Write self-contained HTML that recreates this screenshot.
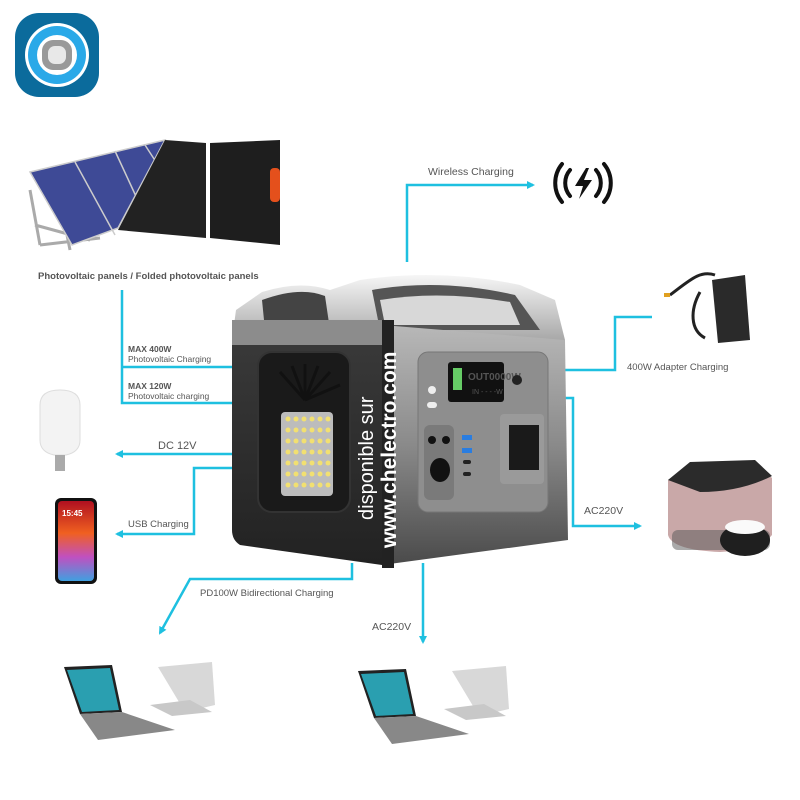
<!DOCTYPE html>
<html><head><meta charset="utf-8"><style>
html,body{margin:0;padding:0;background:#fff;}
svg{display:block;}
text{font-family:"Liberation Sans",sans-serif;fill:#555;}
</style></head><body>
<svg width="800" height="800" viewBox="0 0 800 800" xmlns="http://www.w3.org/2000/svg">
<defs>
<linearGradient id="top" x1="0" y1="0" x2="0" y2="1"><stop offset="0" stop-color="#f6f6f6"/><stop offset="1" stop-color="#a8a8a8"/></linearGradient>
<linearGradient id="front" x1="0" y1="0" x2="0" y2="1"><stop offset="0" stop-color="#b8b8b8"/><stop offset="0.5" stop-color="#8a8a8a"/><stop offset="1" stop-color="#4a4a4a"/></linearGradient>
<linearGradient id="side" x1="0" y1="0" x2="0" y2="1"><stop offset="0" stop-color="#3a3a3a"/><stop offset="1" stop-color="#222"/></linearGradient>
<linearGradient id="phone" x1="0" y1="0" x2="0" y2="1"><stop offset="0" stop-color="#b01020"/><stop offset="0.4" stop-color="#f06020"/><stop offset="0.7" stop-color="#c050c0"/><stop offset="1" stop-color="#40a0e0"/></linearGradient>
<marker id="ar" markerWidth="8" markerHeight="8" refX="6" refY="4" orient="auto" markerUnits="userSpaceOnUse"><path d="M0,0 L8,4 L0,8 z" fill="#1ec0e0"/></marker>
</defs>

<!-- logo -->
<rect x="15" y="13" width="84" height="84" rx="24" fill="#0b6b9c"/>
<circle cx="57" cy="55" r="32" fill="#fff"/>
<circle cx="57" cy="55" r="29" fill="#2aa9e8"/>
<circle cx="57" cy="55" r="20" fill="#fff"/>
<rect x="42" y="40" width="30" height="30" rx="11" fill="#999"/>
<rect x="48" y="46" width="18" height="18" rx="7" fill="#e8e8e8"/>

<!-- solar panels -->
<g stroke="#aaa" stroke-width="3" fill="none"><path d="M30,190 L40,245 M35,225 L90,240 M60,200 L70,250 M40,245 L100,238"/></g>
<polygon points="30,172 165,140 118,228 72,245" fill="#3e4a96" stroke="#ccc" stroke-width="1.5"/>
<line x1="75" y1="162" x2="115" y2="235" stroke="#ccc" stroke-width="1.5"/>
<line x1="115" y1="151" x2="140" y2="205" stroke="#ccc" stroke-width="1.5"/>
<line x1="145" y1="145" x2="158" y2="165" stroke="#ccc" stroke-width="1.5"/>
<polygon points="165,140 206,143 206,238 118,230" fill="#222"/>
<polygon points="210,143 280,140 280,245 210,238" fill="#1e1e1e"/>
<rect x="270" y="168" width="10" height="34" rx="4" fill="#e4501c"/>
<text x="38" y="279" font-size="9.5" font-weight="bold" fill="#444">Photovoltaic panels / Folded photovoltaic panels</text>

<!-- connectors -->
<g stroke="#1ec0e0" stroke-width="2.5" fill="none">
<path d="M122,290 L122,403 L232,403"/>
<path d="M122,367 L232,367"/>
<path d="M232,454 L117,454" marker-end="url(#ar)"/>
<path d="M232,468 L194,468 L194,534 L117,534" marker-end="url(#ar)"/>
<path d="M352,563 L352,579 L190,579 L160,633" marker-end="url(#ar)"/>
<path d="M423,563 L423,642" marker-end="url(#ar)"/>
<path d="M407,262 L407,185 L533,185" marker-end="url(#ar)"/>
<path d="M565,370 L615,370 L615,317 L652,317"/>
<path d="M565,398 L573,398 L573,526 L640,526" marker-end="url(#ar)"/>
</g>
<text x="128" y="352" font-size="8.5" font-weight="bold" fill="#555">MAX 400W</text>
<text x="128" y="362" font-size="8.5" fill="#555">Photovoltaic Charging</text>
<text x="128" y="389" font-size="8.5" font-weight="bold" fill="#555">MAX 120W</text>
<text x="128" y="399" font-size="8.5" fill="#555">Photovoltaic charging</text>
<text x="158" y="449" font-size="11" fill="#555">DC  12V</text>
<text x="128" y="527" font-size="9.5" fill="#555">USB Charging</text>
<text x="200" y="596" font-size="9.5" fill="#555">PD100W Bidirectional Charging</text>
<text x="372" y="630" font-size="10.5" fill="#555">AC220V</text>
<text x="428" y="175" font-size="10.5" fill="#555">Wireless Charging</text>
<text x="627" y="370" font-size="9.5" fill="#555">400W Adapter Charging</text>
<text x="584" y="514" font-size="10.5" fill="#555">AC220V</text>

<!-- wireless icon -->
<g stroke="#111" stroke-width="4" fill="none" stroke-linecap="round">
<path d="M562,164 A30,30 0 0 0 562,202"/><path d="M570,170 A20,20 0 0 0 570,196"/>
<path d="M604,164 A30,30 0 0 1 604,202"/><path d="M596,170 A20,20 0 0 1 596,196"/>
</g>
<polygon points="586,168 575,186 583,186 579,199 592,180 584,180 589,168" fill="#111"/>

<!-- adapter -->
<path d="M670,295 C690,280 700,270 715,275" stroke="#222" stroke-width="3" fill="none"/>
<path d="M700,292 C690,310 690,330 705,338" stroke="#222" stroke-width="3" fill="none"/>
<polygon points="712,280 745,275 750,340 718,343" fill="#2a2a2a"/>
<rect x="664" y="293" width="6" height="4" fill="#e0a020"/>

<!-- power station -->
<path d="M236,310 L262,292 Q300,280 330,290 L360,280 Q440,268 520,285 L555,300 L565,340 L232,340 Z" fill="url(#top)"/>
<path d="M262,300 Q300,286 325,296 L330,330 L265,330 Z" fill="#444"/>
<path d="M372,290 Q440,278 515,295 L540,330 L380,330 Z" fill="#555"/>
<path d="M380,300 Q440,290 510,302 L520,325 L385,325 Z" fill="#d8d8d8"/>
<path d="M232,330 L382,330 L382,565 L240,545 Q232,540 232,530 Z" fill="url(#side)"/>
<path d="M232,320 L382,320 L382,345 L232,345 Z" fill="#8c8c8c"/>
<path d="M382,325 L565,340 L568,540 L382,565 Z" fill="url(#front)"/>
<rect x="382" y="320" width="12" height="248" fill="#222"/>
<rect x="258" y="352" width="92" height="160" rx="14" fill="#1a1a1a" stroke="#333" stroke-width="2"/>
<g stroke="#111" stroke-width="3">
<path d="M305,400 L280,372 M305,400 L292,366 M305,400 L305,364 M305,400 L318,366 M305,400 L330,372 M305,400 L340,385"/>
</g>
<rect x="281" y="412" width="52" height="84" rx="4" fill="#bcbcbc"/>
<g fill="#f2e070">
<circle cx="288" cy="419" r="2.5"/><circle cx="296" cy="419" r="2.5"/><circle cx="304" cy="419" r="2.5"/><circle cx="312" cy="419" r="2.5"/><circle cx="320" cy="419" r="2.5"/><circle cx="328" cy="419" r="2.5"/>
<circle cx="288" cy="430" r="2.5"/><circle cx="296" cy="430" r="2.5"/><circle cx="304" cy="430" r="2.5"/><circle cx="312" cy="430" r="2.5"/><circle cx="320" cy="430" r="2.5"/><circle cx="328" cy="430" r="2.5"/>
<circle cx="288" cy="441" r="2.5"/><circle cx="296" cy="441" r="2.5"/><circle cx="304" cy="441" r="2.5"/><circle cx="312" cy="441" r="2.5"/><circle cx="320" cy="441" r="2.5"/><circle cx="328" cy="441" r="2.5"/>
<circle cx="288" cy="452" r="2.5"/><circle cx="296" cy="452" r="2.5"/><circle cx="304" cy="452" r="2.5"/><circle cx="312" cy="452" r="2.5"/><circle cx="320" cy="452" r="2.5"/><circle cx="328" cy="452" r="2.5"/>
<circle cx="288" cy="463" r="2.5"/><circle cx="296" cy="463" r="2.5"/><circle cx="304" cy="463" r="2.5"/><circle cx="312" cy="463" r="2.5"/><circle cx="320" cy="463" r="2.5"/><circle cx="328" cy="463" r="2.5"/>
<circle cx="288" cy="474" r="2.5"/><circle cx="296" cy="474" r="2.5"/><circle cx="304" cy="474" r="2.5"/><circle cx="312" cy="474" r="2.5"/><circle cx="320" cy="474" r="2.5"/><circle cx="328" cy="474" r="2.5"/>
<circle cx="288" cy="485" r="2.5"/><circle cx="296" cy="485" r="2.5"/><circle cx="304" cy="485" r="2.5"/><circle cx="312" cy="485" r="2.5"/><circle cx="320" cy="485" r="2.5"/><circle cx="328" cy="485" r="2.5"/>
</g>
<rect x="418" y="352" width="130" height="160" rx="10" fill="#8e8e8e" stroke="#777"/>
<rect x="448" y="362" width="56" height="40" rx="3" fill="#111"/>
<rect x="453" y="368" width="9" height="22" fill="#6c6"/>
<text x="468" y="380" font-size="10" fill="#fff" font-weight="bold">OUT0000W</text>
<text x="472" y="394" font-size="7" fill="#fff">IN - - - -W</text>
<circle cx="517" cy="380" r="5" fill="#222"/>
<circle cx="432" cy="390" r="4" fill="#eee"/><rect x="427" y="402" width="10" height="6" rx="3" fill="#eee"/>
<rect x="424" y="425" width="30" height="75" rx="6" fill="#7a7a7a"/>
<circle cx="432" cy="440" r="4" fill="#111"/><circle cx="446" cy="440" r="4" fill="#111"/>
<ellipse cx="440" cy="470" rx="10" ry="12" fill="#111"/>
<rect x="462" y="435" width="10" height="5" fill="#2a7de0"/><rect x="462" y="448" width="10" height="5" fill="#2a7de0"/>
<rect x="463" y="460" width="8" height="4" rx="2" fill="#222"/><rect x="463" y="472" width="8" height="4" rx="2" fill="#222"/>
<rect x="500" y="414" width="44" height="70" rx="4" fill="#9a9a9a"/>
<rect x="509" y="425" width="30" height="45" fill="#1a1a1a"/>
<text transform="translate(373,520) rotate(-90)" font-size="20" style="fill:#fff">disponible sur</text>
<text transform="translate(396,548) rotate(-90)" font-size="21" font-weight="bold" style="fill:#fff">www.chelectro.com</text>

<!-- bulb -->
<path d="M40,405 Q40,390 60,390 Q80,390 80,405 L80,440 Q80,452 66,455 L54,455 Q40,452 40,440 Z" fill="#f3f3f3" stroke="#ddd"/>
<rect x="55" y="455" width="10" height="16" fill="#aaa"/>

<!-- phone -->
<rect x="55" y="498" width="42" height="86" rx="6" fill="#111"/>
<rect x="58" y="501" width="36" height="80" rx="4" fill="url(#phone)"/>
<text x="62" y="516" font-size="8" font-weight="bold" style="fill:#fff">15:45</text>

<!-- rice cooker -->
<path d="M668,480 L690,465 L755,462 L772,478 L772,535 Q760,550 720,552 Q672,550 668,535 Z" fill="#c9a8a8"/>
<path d="M668,480 L690,462 L755,460 L772,476 Q740,492 700,492 Z" fill="#2b2b2b"/>
<rect x="672" y="530" width="98" height="20" rx="6" fill="#555" opacity="0.5"/>
<ellipse cx="745" cy="540" rx="25" ry="16" fill="#1f1f1f"/>
<ellipse cx="745" cy="527" rx="20" ry="7" fill="#fafafa"/>

<!-- laptops -->
<g id="lap">
<polygon points="158,667 212,662 215,705 185,712" fill="#d8d8d8"/>
<polygon points="150,705 190,700 212,712 172,716" fill="#c8c8c8"/>
<polygon points="64,667 112,665 122,712 80,714" fill="#222"/>
<polygon points="67,670 110,668 119,710 82,712" fill="#2a9fb0"/>
<polygon points="80,714 122,712 175,730 98,740" fill="#888"/>
</g>
<use href="#lap" transform="translate(294,4)"/>
</svg>
</body></html>
